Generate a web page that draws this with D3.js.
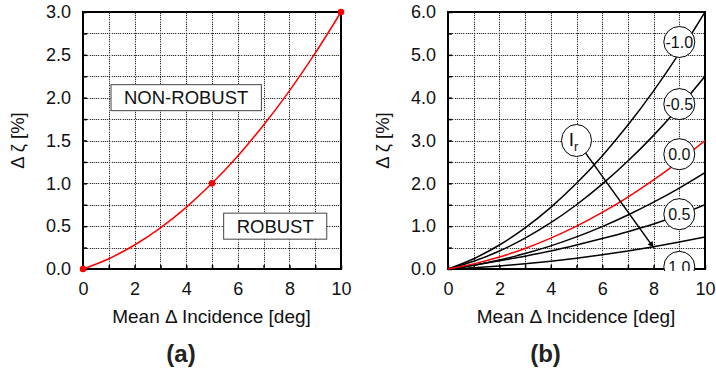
<!DOCTYPE html>
<html>
<head>
<meta charset="utf-8">
<script src="https://cdn.jsdelivr.net/npm/d3@7"></script>
<style>
  body { margin: 0; background: #fff; }
  svg { display: block; font-family: "Liberation Sans", Arial, Helvetica, sans-serif; }
  .grid line { shape-rendering: crispEdges; stroke-width: 1; }
  .grid.under line { stroke: #d2d2d2; }
  .grid.dots line { stroke: #333; stroke-dasharray: 1,1.2; }
  .grid path { display: none; }
  .axis path { display: none; }
  .axis line { stroke: #000; stroke-width: 1.5; }
  .axis text { font-size: 18px; fill: #111; }
</style>
</head>
<body>
<svg id="chart" width="716" height="375"></svg>
<script>
// ---- data ----
const xValues = [0, 1, 2, 3, 4, 5, 6, 7, 8, 9, 10];

// panel (a): threshold curve and its marked points
const thresholdCurve = [0, 0.12, 0.28, 0.48, 0.72, 1.0, 1.32, 1.68, 2.08, 2.52, 3.0];
const thresholdPoints = [[0, 0], [5, 1], [10, 3]];
const regionLabels = [
  { text: "NON-ROBUST", x: 4.0, y: 2.0 },
  { text: "ROBUST", x: 7.45, y: 0.5 },
];

// panel (b): one curve per Ir value
const irCurves = [
  { name: "-1.0", values: [0, 0.24, 0.56, 0.96, 1.44, 2.0, 2.64, 3.36, 4.16, 5.04, 6.0], color: "#000" },
  { name: "-0.5", values: [0, 0.18, 0.42, 0.72, 1.08, 1.5, 1.98, 2.52, 3.12, 3.78, 4.5], color: "#000" },
  { name: "0.25", values: [0, 0.09, 0.21, 0.36, 0.54, 0.75, 0.99, 1.26, 1.56, 1.89, 2.25], color: "#000" },
  { name: "0.5", values: [0, 0.09, 0.19, 0.30, 0.42, 0.56, 0.71, 0.87, 1.05, 1.26, 1.5], color: "#000" },
  { name: "1.0", values: [0, 0.03, 0.07, 0.12, 0.18, 0.25, 0.33, 0.42, 0.52, 0.63, 0.75], color: "#000" },
  { name: "0.0", values: [0, 0.12, 0.28, 0.48, 0.72, 1.0, 1.32, 1.68, 2.08, 2.52, 3.0], color: "#f00" },
];
const irLabels = [
  { text: "-1.0", x: 9, y: 5.3 },
  { text: "-0.5", x: 9, y: 3.85 },
  { text: "0.0", x: 9, y: 2.68 },
  { text: "0.5", x: 9, y: 1.28 },
  { text: "1.0", x: 9, y: 0.05 },
];
const irArrow = { from: [5, 3.0], to: [8, 0.5] };

const xTicks = [0, 2, 4, 6, 8, 10];
const yTicksA = [0, 0.5, 1.0, 1.5, 2.0, 2.5, 3.0];
const yTicksB = [0, 1, 2, 3, 4, 5, 6];
const yGridA = d3.range(0, 3.001, 0.25);
const yGridB = d3.range(0, 6.001, 0.5);

const svg = d3.select("#chart");

svg.append("defs").append("marker")
  .attr("id", "arrowhead")
  .attr("viewBox", "0 0 10 10")
  .attr("refX", 10).attr("refY", 5)
  .attr("markerWidth", 8).attr("markerHeight", 6)
  .attr("markerUnits", "userSpaceOnUse")
  .attr("orient", "auto")
  .append("path")
  .attr("d", "M0,0 L10,5 L0,10 Z")
  .attr("fill", "#000");

// --- draw frame, grid, ticks and titles of one panel ---
const drawPanel = (cfg) => {
  const { x, y, id } = cfg;
  const [x0, x1] = x.range();
  const [y0, y1] = y.range();
  const g = svg.append("g");

  g.append("clipPath").attr("id", "clip-" + id)
    .append("rect").attr("x", x0).attr("y", y1).attr("width", x1 - x0).attr("height", y0 - y1 + 2);

  // grid: pale solid line with dark dots on top
  ["under", "dots"].forEach((layer) => {
    g.append("g").attr("class", "grid " + layer)
      .attr("transform", `translate(0,${y0})`)
      .call(d3.axisBottom(x).tickValues(xValues.slice(1, -1)).tickSize(-(y0 - y1)).tickFormat(""));
    g.append("g").attr("class", "grid " + layer)
      .attr("transform", `translate(${x0},0)`)
      .call(d3.axisLeft(y).tickValues(cfg.yGrid.slice(1, -1)).tickSize(-(x1 - x0)).tickFormat(""));
  });

  // inward ticks with labels
  g.append("g").attr("class", "axis")
    .attr("transform", `translate(0,${y0})`)
    .call(d3.axisBottom(x).tickValues(xValues).tickSizeInner(-4).tickSizeOuter(0).tickPadding(13)
      .tickFormat((d) => (xTicks.includes(d) ? d3.format("d")(d) : "")));
  g.append("g").attr("class", "axis")
    .attr("transform", `translate(${x0},0)`)
    .call(d3.axisLeft(y).tickValues(cfg.yGrid).tickSizeInner(-4).tickSizeOuter(0).tickPadding(12)
      .tickFormat((d) => (cfg.yTicks.some((t) => Math.abs(t - d) < 1e-9) ? d3.format(".1f")(d) : "")));

  g.append("rect")
    .attr("x", x0).attr("y", y1)
    .attr("width", x1 - x0).attr("height", y0 - y1)
    .attr("fill", "none").attr("stroke", "#000").attr("stroke-width", 2);

  g.append("text")
    .attr("transform", `translate(${cfg.yTitleX},${(y0 + y1) / 2}) rotate(-90)`)
    .attr("text-anchor", "middle")
    .attr("font-size", 18.5).attr("fill", "#111")
    .text("\u0394 \u03b6 [%]");

  g.append("text")
    .attr("x", (x0 + x1) / 2 - 0.5).attr("y", 323)
    .attr("text-anchor", "middle")
    .attr("font-size", 19).attr("fill", "#111")
    .text("Mean \u0394 Incidence [deg]");

  g.append("text")
    .attr("x", (x0 + x1) / 2 - 31).attr("y", 362)
    .attr("text-anchor", "middle")
    .attr("font-size", 24).attr("font-weight", "bold").attr("fill", "#222")
    .text(cfg.panel);

  return g;
};

// ---- panel (a) ----
const xA = d3.scaleLinear().domain([0, 10]).range([83, 341]);
const yA = d3.scaleLinear().domain([0, 3]).range([269, 12]);
const gA = drawPanel({ x: xA, y: yA, id: "a", yGrid: yGridA, yTicks: yTicksA, yTitleX: 24, panel: "(a)" });

const lineA = d3.line().x((d, i) => xA(xValues[i])).y((d) => yA(d)).curve(d3.curveMonotoneX);
gA.append("path")
  .attr("d", lineA(thresholdCurve))
  .attr("fill", "none").attr("stroke", "#f00").attr("stroke-width", 1.5);

gA.selectAll(".pt").data(thresholdPoints).join("circle")
  .attr("cx", (d) => xA(d[0])).attr("cy", (d) => yA(d[1]))
  .attr("r", 3.3).attr("fill", "#f00");

regionLabels.forEach((lab) => {
  const t = gA.append("text")
    .attr("x", xA(lab.x)).attr("y", yA(lab.y))
    .attr("text-anchor", "middle").attr("dy", "0.36em")
    .attr("font-size", 18.5).attr("fill", "#111")
    .text(lab.text);
  const bb = t.node().getBBox();
  gA.insert("rect", () => t.node())
    .attr("x", bb.x - 13).attr("y", yA(lab.y) - 13)
    .attr("width", bb.width + 26).attr("height", 26)
    .attr("fill", "#fff").attr("stroke", "#444").attr("stroke-width", 1);
});

// ---- panel (b) ----
const xB = d3.scaleLinear().domain([0, 10]).range([448, 705]);
const yB = d3.scaleLinear().domain([0, 6]).range([269, 12]);
const gB = drawPanel({ x: xB, y: yB, id: "b", yGrid: yGridB, yTicks: yTicksB, yTitleX: 389, panel: "(b)" });

const lineB = d3.line().x((d, i) => xB(xValues[i])).y((d) => yB(d)).curve(d3.curveMonotoneX);
gB.append("g").attr("clip-path", "url(#clip-b)")
  .selectAll("path").data(irCurves).join("path")
  .attr("d", (d) => lineB(d.values))
  .attr("fill", "none").attr("stroke", (d) => d.color).attr("stroke-width", 1.5);

// arrow from the Ir bubble
const ax0 = xB(irArrow.from[0]), ay0 = yB(irArrow.from[1]);
const ax1 = xB(irArrow.to[0]), ay1 = yB(irArrow.to[1]);
const len = Math.hypot(ax1 - ax0, ay1 - ay0);
const rIr = 15;
gB.append("line")
  .attr("x1", ax0 + (ax1 - ax0) / len * rIr).attr("y1", ay0 + (ay1 - ay0) / len * rIr)
  .attr("x2", ax1).attr("y2", ay1)
  .attr("stroke", "#000").attr("stroke-width", 1.5)
  .attr("marker-end", "url(#arrowhead)");

const irBubble = gB.append("g");
irBubble.append("ellipse")
  .attr("cx", ax0).attr("cy", ay0).attr("rx", 15).attr("ry", 16)
  .attr("fill", "#fff").attr("stroke", "#000").attr("stroke-width", 1);
const irText = irBubble.append("text")
  .attr("x", ax0 - 3).attr("y", ay0 + 5)
  .attr("text-anchor", "middle").attr("font-size", 19).attr("fill", "#111");
irText.append("tspan").text("I");
irText.append("tspan").attr("font-size", 13).attr("dy", 5).text("r");

const labelG = gB.append("g").attr("clip-path", "url(#clip-b)");
irLabels.forEach((lab) => {
  labelG.append("circle")
    .attr("cx", xB(lab.x)).attr("cy", yB(lab.y)).attr("r", 15.5)
    .attr("fill", "#fff").attr("stroke", "#000").attr("stroke-width", 1);
  labelG.append("text")
    .attr("x", xB(lab.x)).attr("y", yB(lab.y)).attr("dy", "0.36em")
    .attr("text-anchor", "middle").attr("font-size", 16).attr("fill", "#111")
    .text(lab.text);
});
</script>
</body>
</html>
